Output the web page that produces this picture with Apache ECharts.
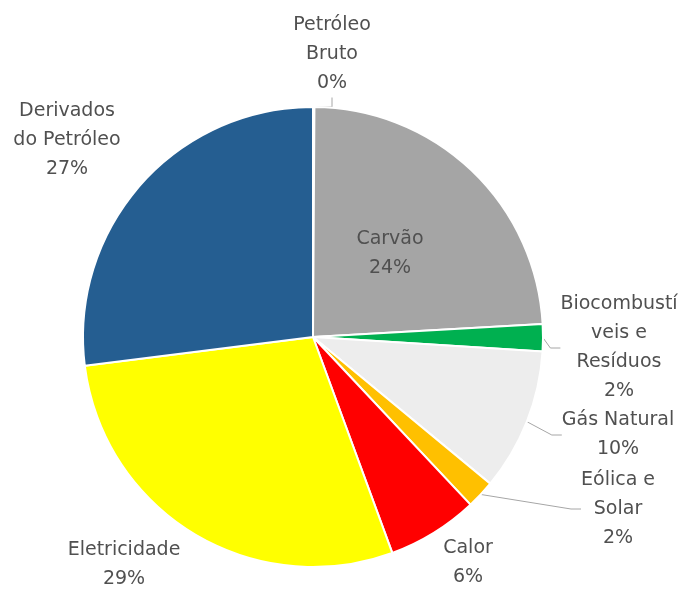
<!DOCTYPE html>
<html lang="pt">
<head>
    <meta charset="UTF-8">
    <title>Consumo por fonte</title>
    <script src="https://cdn.jsdelivr.net/npm/echarts@6/dist/echarts.min.js"></script>
    <style>
        html, body { margin: 0; padding: 0; background: #fff; }
        #main { width: 683px; height: 591px; }
    </style>
</head>
<body>
    <div id="main"></div>
    <script>
        // dados (%), sentido horário a partir do topo
        var names = ['Petróleo Bruto', 'Carvão', 'Biocombustíveis e Resíduos', 'Gás Natural',
            'Eólica e Solar', 'Calor', 'Eletricidade', 'Derivados do Petróleo'];
        var labelTexts = ['Petróleo\nBruto', 'Carvão', 'Biocombustí\nveis e\nResíduos', 'Gás Natural',
            'Eólica e\nSolar', 'Calor', 'Eletricidade', 'Derivados\ndo Petróleo'];
        var values = [0.1, 24.0, 1.9, 10.0, 2.0, 6.4, 28.6, 27.0];
        var colors = ['#4472C4', '#A5A5A5', '#00B050', '#EDEDED', '#FFC000', '#FF0000', '#FFFF00', '#255E91'];

        // onde ficam os rótulos (centro do bloco de texto)
        var labelPos = [[332, 54], [390, 254], [619, 348], [618, 435], [618, 509], [468, 563], [124, 565], [67, 140]];
        var withLine = [true, false, true, true, true, false, false, false];

        var data = [];
        for (var i = 0; i < values.length; i++) {
            data.push({
                name: names[i],
                value: values[i],
                itemStyle: { color: colors[i] },
                labelLine: { show: withLine[i] }
            });
        }

        var myChart = echarts.init(document.getElementById('main'));
        var option = {
            animation: false,
            series: [{
                type: 'pie',
                center: [313, 337],
                radius: 230,
                startAngle: 90,
                clockwise: true,
                avoidLabelOverlap: false,
                data: data,
                itemStyle: {
                    borderColor: '#fff',
                    borderWidth: 2
                },
                label: {
                    show: true,
                    position: 'outside',
                    fontFamily: 'DejaVu Sans',
                    fontSize: 19,
                    lineHeight: 29,
                    color: '#505050',
                    align: 'center',
                    formatter: function (p) {
                        return labelTexts[p.dataIndex] + '\n' + Math.round(p.percent) + '%';
                    }
                },
                labelLine: {
                    length: 10,
                    length2: 10,
                    lineStyle: { color: '#A6A6A6', width: 1 }
                },
                labelLayout: function (p) {
                    var pos = labelPos[p.dataIndex];
                    return {
                        x: pos[0],
                        y: pos[1],
                        align: 'center',
                        verticalAlign: 'middle'
                    };
                }
            }]
        };
        myChart.setOption(option);
    </script>
</body>
</html>
